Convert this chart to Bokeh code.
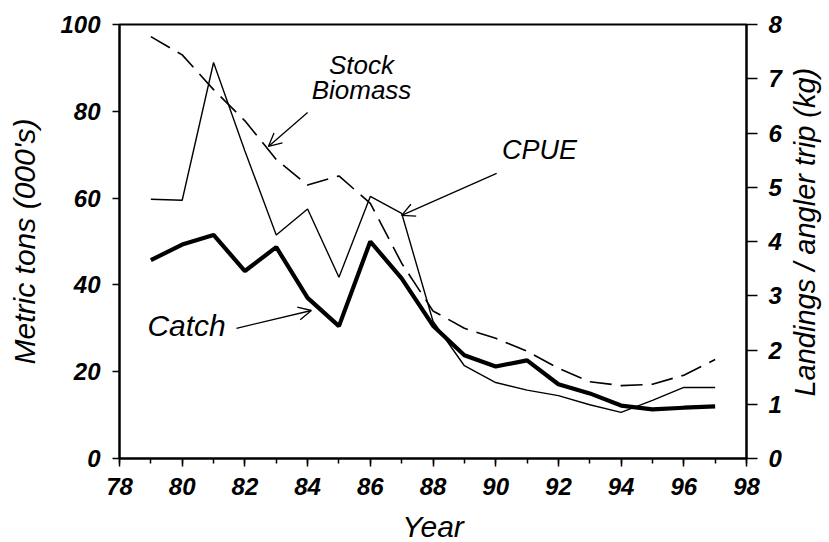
import math
from bokeh.plotting import figure
from bokeh.layouts import row
from bokeh.models import (Range1d, LinearAxis, SingleIntervalTicker, Label, Arrow,
                          OpenHead, ColumnDataSource)
from bokeh.embed import file_html
from bokeh.resources import INLINE

# ---- data ----
years = [79, 80, 81, 82, 83, 84, 85, 86, 87, 88, 89, 90, 91, 92, 93, 94, 95, 96, 97]
catch = [45.7, 49.3, 51.5, 43.2, 48.7, 37.0, 30.5, 50.0, 41.5, 30.6, 23.8, 21.2, 22.6,
         17.1, 15.0, 12.2, 11.3, 11.7, 12.0]
biomass = [97.2, 93.0, 85.0, 77.8, 68.9, 63.0, 65.1, 58.8, 45.0, 34.0, 30.0, 27.7, 24.7,
           20.8, 17.7, 16.8, 17.1, 19.2, 22.8]
cpue = [4.78, 4.76, 7.30, 5.67, 4.12, 4.60, 3.34, 4.83, 4.52, 2.53, 1.71, 1.40, 1.26,
        1.16, 0.99, 0.85, 1.07, 1.31, 1.31]

x_label = "Year"
y_label = "Metric tons (000's)"
y2_label = "Landings / angler trip (kg)"

FONT = "Liberation Sans"

src = ColumnDataSource(dict(year=years, catch=catch, biomass=biomass, cpue=cpue))

p = figure(frame_width=627, frame_height=434, output_backend="svg", toolbar_location=None,
           x_range=Range1d(78, 98), y_range=Range1d(0, 100),
           min_border_left=119, min_border_top=24, min_border_right=36, min_border_bottom=60)
p.extra_y_ranges = {"cpue": Range1d(0, 8)}

p.background_fill_color = "white"
p.border_fill_color = "white"
p.outline_line_color = "black"
p.outline_line_width = 2
p.xgrid.visible = False
p.ygrid.visible = False

# lines
p.line("year", "biomass", source=src, line_color="black", line_width=1.6, line_dash="22 9")
p.line("year", "cpue", source=src, y_range_name="cpue", line_color="black", line_width=1.4)
p.line("year", "catch", source=src, line_color="black", line_width=4.2)

# axes styling
def style_axis(ax):
    ax.axis_line_color = "black"
    ax.axis_line_width = 2
    ax.major_tick_line_color = "black"
    ax.major_tick_line_width = 1.5
    ax.major_tick_in = 0
    ax.major_label_text_font = FONT
    ax.major_label_text_font_style = "bold italic"
    ax.major_label_text_font_size = "24px"
    ax.major_label_text_color = "black"
    ax.axis_label_text_font = FONT
    ax.axis_label_text_font_style = "italic"
    ax.axis_label_text_font_size = "30px"
    ax.axis_label_text_color = "black"

xa = p.xaxis[0]
style_axis(xa)
xa.ticker = SingleIntervalTicker(interval=2, num_minor_ticks=2)
xa.major_tick_out = 8
xa.minor_tick_out = 5
xa.minor_tick_in = 0
xa.minor_tick_line_color = "black"
xa.minor_tick_line_width = 1.5
xa.major_label_standoff = 11
xa.axis_label = x_label
xa.axis_label_standoff = 12

ya = p.yaxis[0]
style_axis(ya)
ya.ticker = SingleIntervalTicker(interval=20, num_minor_ticks=0)
ya.minor_tick_line_color = None
ya.major_tick_out = 7
ya.major_label_standoff = 12
ya.axis_label = y_label
ya.axis_label_standoff = 16

ra = LinearAxis(y_range_name="cpue", ticker=SingleIntervalTicker(interval=1, num_minor_ticks=0))
style_axis(ra)
ra.minor_tick_line_color = None
ra.major_tick_out = 11
ra.major_label_standoff = 11
p.add_layout(ra, "right")

# annotations
def lab(x, y, t, size):
    p.add_layout(Label(x=x, y=y, text=t, text_font=FONT, text_font_style="italic",
                       text_font_size=size, text_align="center", text_baseline="alphabetic",
                       text_color="black"))

lab(85.72, 90.6, "Stock", "26px")
lab(85.72, 84.9, "Biomass", "26px")
lab(91.4, 71.0, "CPUE", "27px")
lab(80.14, 30.7, "Catch", "30px")

def arrow(x0, y0, x1, y1, yr="default"):
    p.add_layout(Arrow(x_start=x0, y_start=y0, x_end=x1, y_end=y1, line_width=1.3,
                       line_color="black", y_range_name=yr,
                       end=OpenHead(size=13, line_width=1.3, line_color="black")))

arrow(84.0, 79.7, 82.75, 71.9)
arrow(90.03, 65.7, 87.0, 56.0)
arrow(81.73, 30.0, 84.12, 34.1)

# narrow companion panel holding the right-hand axis title (reads bottom to top)
p2 = figure(width=39, height=520, output_backend="svg", toolbar_location=None,
            x_range=Range1d(0, 39), y_range=Range1d(520, 0),
            x_axis_location=None, y_axis_location=None, min_border=0)
p2.outline_line_color = None
p2.xgrid.visible = False
p2.ygrid.visible = False
p2.background_fill_color = "white"
p2.border_fill_color = "white"
p2.add_layout(Label(x=20, y=264, text=y2_label, angle=math.pi / 2,
                    text_font=FONT, text_font_style="italic", text_font_size="29px",
                    text_align="center", text_baseline="middle", text_color="black"))

layout = row(p, p2, spacing=0)

open("out.html", "w").write(file_html(layout, INLINE))
